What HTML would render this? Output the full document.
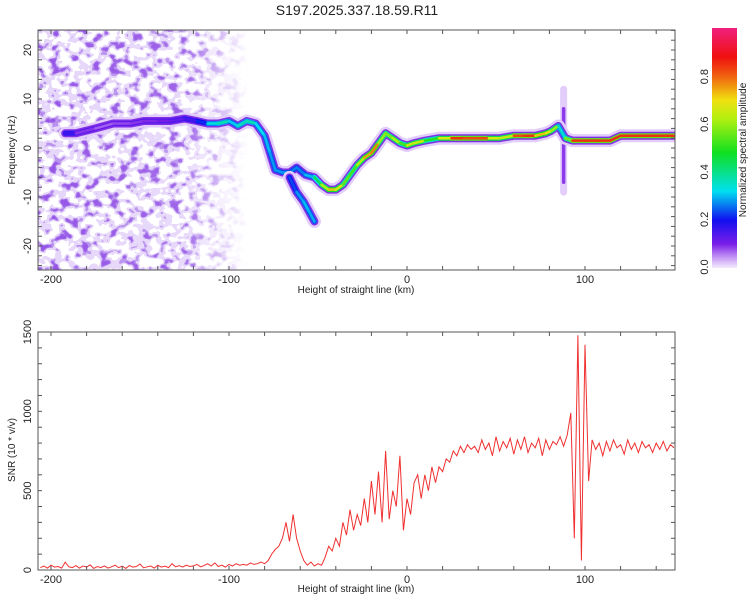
<!DOCTYPE html>
<html><head><meta charset="utf-8"><style>
html,body{margin:0;padding:0;background:#fff;}
svg{display:block;font-family:"Liberation Sans",sans-serif;}
</style></head><body>
<svg id="c" width="750" height="600" viewBox="0 0 750 600" xmlns="http://www.w3.org/2000/svg">
<defs>
<filter id="speckle" x="0" y="0" width="1" height="1" filterUnits="objectBoundingBox">
  <feTurbulence type="fractalNoise" baseFrequency="0.1 0.12" numOctaves="2" seed="7" result="n"/>
  <feColorMatrix in="n" type="matrix" values="0 0 0 0 0 0 0 0 0 0 0 0 0 0 0 1.6 0 0 0 -0.35" result="a"/>
  <feComponentTransfer in="a" result="lav"><feFuncA type="discrete" tableValues="0 0 0 0 0.6 0.6 0.6 0.6 0.6 0.6"/></feComponentTransfer>
  <feComponentTransfer in="a" result="pur"><feFuncA type="discrete" tableValues="0 0 0 0 0 0 0.55 0.85 0.9 0.9"/></feComponentTransfer>
  <feFlood flood-color="#d6bbf7" result="f1"/>
  <feComposite in="f1" in2="lav" operator="in" result="l1"/>
  <feFlood flood-color="#8a3ce4" result="f2"/>
  <feComposite in="f2" in2="pur" operator="in" result="l2"/>
  <feMerge><feMergeNode in="l1"/><feMergeNode in="l2"/></feMerge>
</filter>
<linearGradient id="fade" x1="0" x2="1" y1="0" y2="0">
  <stop offset="0" stop-color="#fff" stop-opacity="1"/>
  <stop offset="0.7" stop-color="#fff" stop-opacity="0.9"/>
  <stop offset="1" stop-color="#fff" stop-opacity="0"/>
</linearGradient>
<mask id="fadeMask"><rect x="38" y="30" width="210" height="240" fill="url(#fade)"/></mask>
<clipPath id="topClip"><rect x="38" y="30" width="637" height="240"/></clipPath>
<clipPath id="botClip"><rect x="38" y="332" width="637" height="238"/></clipPath>
<linearGradient id="cbar" x1="0" x2="0" y1="1" y2="0">
  <stop offset="0" stop-color="#f4eaff"/>
  <stop offset="0.04" stop-color="#c9a0f5"/>
  <stop offset="0.1" stop-color="#7a1ee8"/>
  <stop offset="0.2" stop-color="#1010f0"/>
  <stop offset="0.32" stop-color="#00e0f0"/>
  <stop offset="0.48" stop-color="#10e020"/>
  <stop offset="0.62" stop-color="#b0f010"/>
  <stop offset="0.7" stop-color="#f0e010"/>
  <stop offset="0.8" stop-color="#f06010"/>
  <stop offset="0.88" stop-color="#f01010"/>
  <stop offset="1" stop-color="#f0207f"/>
</linearGradient>
</defs>
<text x="357" y="15" text-anchor="middle" font-size="14" fill="#222">S197.2025.337.18.59.R11</text>
<g id="top">
  <g clip-path="url(#topClip)">
    <rect x="38" y="30" width="210" height="240" filter="url(#speckle)" mask="url(#fadeMask)"/>
    <g id="ridge"></g>
  </g>
  <rect x="38" y="30" width="637" height="240" fill="none" stroke="#555" stroke-width="1"/>
  <g id="topAxes"></g>
  <text x="356" y="293" text-anchor="middle" font-size="10" fill="#222">Height of straight line (km)</text>
  <text transform="translate(15,150) rotate(-90)" text-anchor="middle" font-size="10" fill="#222">Frequency (Hz)</text>
</g>
<g id="cb">
  <rect x="712" y="28" width="25" height="240" fill="url(#cbar)"/>
  <text transform="translate(746,150) rotate(-90)" text-anchor="middle" font-size="10" fill="#222">Normalized spectral amplitude</text>
</g>
<g id="bot">
  <g clip-path="url(#botClip)"><path id="snrLine" fill="none" stroke="#f03030" stroke-width="1"/></g>
  <rect x="38" y="332" width="637" height="238" fill="none" stroke="#555" stroke-width="1"/>
  <g id="botAxes"></g>
  <text x="356" y="592" text-anchor="middle" font-size="10" fill="#222">Height of straight line (km)</text>
  <text transform="translate(15,450) rotate(-90)" text-anchor="middle" font-size="10" fill="#222">SNR (10 * v/v)</text>
</g>
</svg>
<script>
// ---- data ----
const xTickLabels = [-200, -100, 0, 100];
const freqTickLabels = [-20, -10, 0, 10, 20];
const snrTickLabels = [0, 500, 1000, 1500];
const cbTickLabels = [0.0, 0.2, 0.4, 0.6, 0.8];
const ridgeHeights = [-192,-186,-175,-165,-155,-148,-140,-133,-125,-118,-112,-106,-100,-95,-90,-85,-80,-77,-74,-70,-66,-62,-57,-52,-48,-44,-40,-36,-32,-28,-24,-20,-16,-12,-8,-4,0,4,10,18,25,32,40,46,52,60,66,72,78,81,85,89,93,100,108,114,120,130,140,150];
const ridgeFreqs   = [3,3,4,5,5,5.5,5.5,5.5,6,5.5,5,5,5.5,4.5,5.5,5,2.5,-1,-4.5,-5,-5,-4,-5.5,-6,-7.5,-8.5,-8.5,-7.5,-5.5,-3.5,-2,-1,1,3,2,1,0.5,1,1.5,2,2,2,2,2,2,2.5,2.5,2.5,3,3.5,4.5,2,1.5,1.5,1.5,1.5,2.5,2.5,2.5,2.5];
const ridgeAmps    = [0.2,0.12,0.06,0.08,0.08,0.1,0.09,0.12,0.12,0.18,0.25,0.42,0.32,0.3,0.42,0.32,0.32,0.28,0.28,0.28,0.28,0.25,0.28,0.32,0.55,0.7,0.75,0.6,0.5,0.55,0.7,0.8,0.75,0.45,0.7,0.55,0.5,0.8,0.5,0.5,0.85,0.85,0.8,0.85,0.5,0.8,0.85,0.85,0.6,0.8,0.4,0.3,0.85,0.85,0.85,0.85,0.85,0.85,0.85,0.85];
const branchHeights = [-66,-62,-58,-55,-52];
const branchFreqs   = [-6,-9,-11,-13,-15];
const branchAmps    = [0.2,0.26,0.3,0.3,0.28];
const spikeHeight = 88;
const spikeLowFreq = -9;
const spikeHighFreq = 12;
const snrStart = -206, snrStep = 2;
const snrValues = [
 15,25,12,30,18,22,12,50,20,15,28,12,25,18,32,10,22,15,26,12,20,30,15,24,10,28,18,22,38,14,
 20,25,12,30,18,24,15,40,20,28,18,30,22,26,35,20,28,40,25,45,22,30,18,35,25,40,30,35,
 30,45,35,40,50,40,
 60,100,130,150,200,300,180,350,200,120,
 60,30,50,25,40,30,
 80,150,120,200,
 150,300,220,380,250,
 350,280,450,300,560,350,620,300,750,320,
 500,400,720,250,450,
 350,550,600,450,600,500,650,550,650,620,
 700,680,750,720,780,740,790,760,780,740,
 820,760,800,720,840,750,810,770,830,730,820,760,840,740,800,770,830,720,820,760,810,790,840,780,850,
 990,200,1480,60,1420,
 560,820,760,800,720,810,750,820,770,790,730,820,760,800,740,810,770,790,740,800,760,810,750,790,770];
// ---- scales ----
const X = v => 407 + (v) * 1.78;
const YF = f => 148 - f * 4.9;
const YS = s => 570 - s * (238 / 1500);
const NS = "http://www.w3.org/2000/svg";
function mk(tag, attrs, parent){ const e=document.createElementNS(NS,tag); for(const k in attrs) e.setAttribute(k,attrs[k]); parent.appendChild(e); return e; }
const stops=[[0,[244,234,255]],[0.04,[201,160,245]],[0.1,[122,30,232]],[0.2,[16,16,240]],[0.32,[0,224,240]],[0.48,[16,224,32]],[0.62,[176,240,16]],[0.7,[240,224,16]],[0.8,[240,96,16]],[0.88,[240,16,16]],[1,[240,32,127]]];
function cmap(a){ a=Math.max(0,Math.min(1,a)); for(let i=1;i<stops.length;i++){ if(a<=stops[i][0]){ const [p0,c0]=stops[i-1],[p1,c1]=stops[i]; const t=(a-p0)/(p1-p0); return 'rgb('+c0.map((c,j)=>Math.round(c+(c1[j]-c)*t)).join(',')+')'; } } return 'rgb(240,32,127)'; }
// ---- ridge ----
const ridge=document.getElementById('ridge');
function drawTrack(hs,fs,as,name){
  const pts=hs.map((h,i)=>X(h)+','+YF(fs[i])).join(' ');
  const halo=mk('polyline',{points:pts,fill:'none',stroke:'#e3cdfb','stroke-width':13,'stroke-linecap':'round','stroke-linejoin':'round'},ridge);
  
  
  const pur=mk('polyline',{points:pts,fill:'none',stroke:'#8030e6','stroke-width':8,'stroke-linecap':'round','stroke-linejoin':'round'},ridge);
  
  
  for(let i=0;i<hs.length-1;i++){
    const a=(as[i]+as[i+1])/2;
    const s=mk('line',{x1:X(hs[i]),y1:YF(fs[i]),x2:X(hs[i+1]),y2:YF(fs[i+1]),stroke:cmap(a*0.55+0.08),'stroke-width':5,'stroke-linecap':'round'},ridge);
    
    
  }
  for(let i=0;i<hs.length-1;i++){
    const a=(as[i]+as[i+1])/2;
    const s=mk('line',{x1:X(hs[i]),y1:YF(fs[i]),x2:X(hs[i+1]),y2:YF(fs[i+1]),stroke:cmap(a),'stroke-width':2.5,'stroke-linecap':'round'},ridge);
    
    
  }
}
const sh=mk('line',{x1:X(spikeHeight),y1:YF(spikeLowFreq),x2:X(spikeHeight),y2:YF(spikeHighFreq),stroke:'#e3cdfb','stroke-width':7,'stroke-linecap':'round'},ridge);


const sp=mk('line',{x1:X(spikeHeight),y1:YF(spikeLowFreq+2),x2:X(spikeHeight),y2:YF(spikeHighFreq-4),stroke:'#8a3ae8','stroke-width':3.5,'stroke-linecap':'round'},ridge);


drawTrack(ridgeHeights,ridgeFreqs,ridgeAmps,'ridge-main');
drawTrack(branchHeights,branchFreqs,branchAmps,'ridge-branch');
// ---- axes ----
const tA=document.getElementById('topAxes'), bA=document.getElementById('botAxes');
function xTicks(g,top,bot,labelY,pfx){
  for(let v=-200;v<=150;v+=20){
    const t1=mk('line',{x1:X(v),x2:X(v),y1:bot,y2:bot-4,stroke:'#555'},g);
    
    
    const t2=mk('line',{x1:X(v),x2:X(v),y1:top,y2:top+4,stroke:'#555'},g);
    
    
  }
  xTickLabels.forEach(v=>{
    const t=mk('text',{x:X(v),y:labelY,'text-anchor':'middle','font-size':11,fill:'#222'},g); t.textContent=v;
    
    
  });
}
xTicks(tA,30,270,283,'top'); xTicks(bA,332,570,583,'bottom');
for(let f=-24;f<=24;f+=2){
  const l=mk('line',{x1:38,x2:42,y1:YF(f),y2:YF(f),stroke:'#555'},tA);
  
  
  const r=mk('line',{x1:675,x2:671,y1:YF(f),y2:YF(f),stroke:'#555'},tA);
  
  
}
freqTickLabels.forEach(f=>{
  const t=mk('text',{transform:'translate(31,'+YF(f)+') rotate(-90)','text-anchor':'middle','font-size':11,fill:'#222'},tA); t.textContent=f;
  
  
});
for(let s=0;s<=1500;s+=100){
  const l=mk('line',{x1:38,x2:42,y1:YS(s),y2:YS(s),stroke:'#555'},bA);
  
  
  const r=mk('line',{x1:675,x2:671,y1:YS(s),y2:YS(s),stroke:'#555'},bA);
  
  
}
snrTickLabels.forEach(s=>{
  const t=mk('text',{transform:'translate(31,'+YS(s)+') rotate(-90)','text-anchor':'middle','font-size':11,fill:'#222'},bA); t.textContent=s;
  
  
});
const cb=document.getElementById('cb');
cbTickLabels.forEach(v=>{
  const y=267 - v*238;
  const t=mk('text',{transform:'translate(708,'+y+') rotate(-90)','text-anchor':'middle','font-size':11,fill:'#222'},cb); t.textContent=v.toFixed(1);
  
  
});
// ---- snr line ----
document.getElementById('snrLine').setAttribute('d', snrValues.map((s,i)=>(i?'L':'M')+X(snrStart+i*snrStep).toFixed(1)+','+YS(s).toFixed(1)).join(''));
</script>
</body></html>
